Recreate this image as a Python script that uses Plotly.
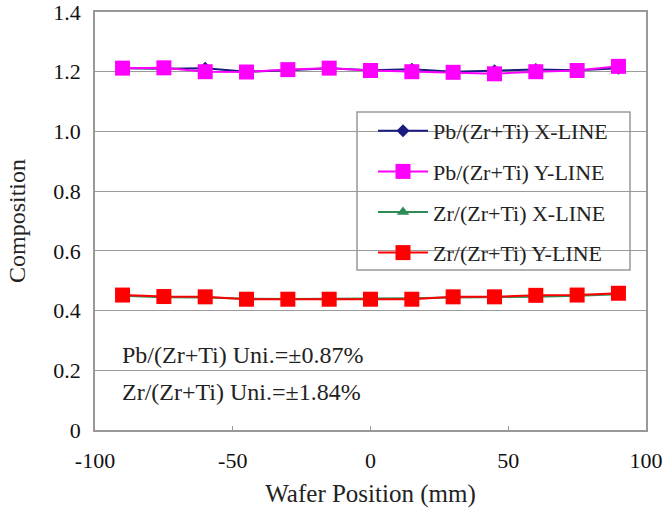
import plotly.graph_objects as go

positions = [-90, -75, -60, -45, -30, -15, 0, 15, 30, 45, 60, 75, 90]
pb_x_line = [1.212, 1.210, 1.212, 1.200, 1.205, 1.212, 1.205, 1.208, 1.200, 1.203, 1.207, 1.205, 1.212]
pb_y_line = [1.212, 1.213, 1.200, 1.199, 1.207, 1.212, 1.204, 1.200, 1.198, 1.193, 1.200, 1.204, 1.218]
zr_x_line = [0.450, 0.445, 0.444, 0.440, 0.439, 0.440, 0.439, 0.441, 0.444, 0.444, 0.446, 0.450, 0.455]
zr_y_line = [0.452, 0.447, 0.446, 0.438, 0.438, 0.438, 0.438, 0.438, 0.446, 0.446, 0.451, 0.452, 0.458]

series_names = ["Pb/(Zr+Ti) X-LINE", "Pb/(Zr+Ti) Y-LINE", "Zr/(Zr+Ti) X-LINE", "Zr/(Zr+Ti) Y-LINE"]
y_tickvals = [0, 0.2, 0.4, 0.6, 0.8, 1.0, 1.2, 1.4]
y_ticktext = ["0", "0.2", "0.4", "0.6", "0.8", "1.0", "1.2", "1.4"]
x_tickvals = [-100, -50, 0, 50, 100]
x_ticktext = ["-100", "-50", "0", "50", "100"]
notes = ["Pb/(Zr+Ti) Uni.=±0.87%", "Zr/(Zr+Ti) Uni.=±1.84%"]

FONT = "Times New Roman, Liberation Serif, Times, serif"

styles = [
    dict(color="#1a1a80", symbol="diamond", size=10),
    dict(color="#ff00ff", symbol="square", size=15),
    dict(color="#2e8b57", symbol="triangle-up", size=11),
    dict(color="#ff0000", symbol="square", size=15),
]
data = [pb_x_line, pb_y_line, zr_x_line, zr_y_line]

L, R, T, B = 95, 646, 12, 430
PW, PH = R - L, B - T

fig = go.Figure()
for i, (name, vals, st) in enumerate(zip(series_names, data, styles)):
    fig.add_trace(go.Scatter(
        x=positions, y=vals, name=name, mode="lines+markers",
        legendgroup=f"g{i}",
        line=dict(color=st["color"], width=2),
        marker=dict(color=st["color"], symbol=st["symbol"], size=st["size"],
                    line=dict(width=0)),
    ))

for txt, ypx in zip(notes, [355, 392]):
    fig.add_annotation(text=txt, xref="paper", yref="paper", x=(120 - L) / PW, y=(B - ypx) / PH,
                       xanchor="left", yanchor="middle", showarrow=False,
                       font=dict(family=FONT, size=24, color="#222"))

# legend frame
fig.add_shape(type="rect", xref="paper", yref="paper",
              x0=(357 - L) / PW, x1=(630 - L) / PW,
              y0=(B - 270) / PH, y1=(B - 112) / PH,
              line=dict(color="#999999", width=1.5), fillcolor="white", layer="below")

fig.update_layout(
    template="none",
    width=670, height=512,
    margin=dict(l=L, r=670 - R, t=T, b=512 - B, autoexpand=False),
    paper_bgcolor="white", plot_bgcolor="white",
    font=dict(family=FONT, size=22, color="#111"),
    showlegend=True,
    legend=dict(x=(373 - L) / PW, y=(B - 110) / PH, xanchor="left", yanchor="top",
                bgcolor="rgba(0,0,0,0)", borderwidth=0,
                font=dict(family=FONT, size=22, color="#222"),
                tracegroupgap=9, itemwidth=50, traceorder="grouped"),
    xaxis=dict(range=[-100, 100], tickvals=x_tickvals, ticktext=x_ticktext,
               ticks="inside", ticklen=4, ticklabelstandoff=10,
               tickcolor="#999", showgrid=False, zeroline=False, automargin=False,
               showline=True, linecolor="#999", linewidth=1.5, mirror=True,
               tickfont=dict(family=FONT, size=22, color="#111"),
               title=dict(text="Wafer Position (mm)", font=dict(family=FONT, size=25, color="#222"),
                          standoff=12)),
    yaxis=dict(range=[0, 1.4], tickvals=y_tickvals, ticktext=y_ticktext,
               ticks="inside", ticklen=4, tickcolor="#999", automargin=False,
               ticklabelstandoff=8, ticklabeloverflow="allow",
               showgrid=True, gridcolor="#9a9a9a", gridwidth=1, zeroline=False,
               showline=True, linecolor="#999", linewidth=1.5, mirror=True,
               tickfont=dict(family=FONT, size=22, color="#111"),
               title=dict(text="Composition", font=dict(family=FONT, size=24, color="#222"),
                          standoff=21)),
)

fig.write_html("out.html")
